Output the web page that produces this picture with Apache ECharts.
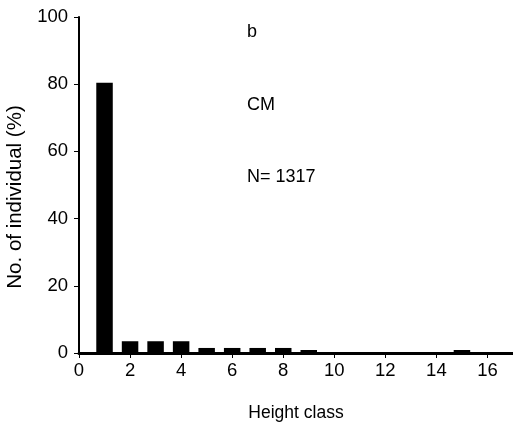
<!DOCTYPE html>
<html>
<head>
<meta charset="utf-8">
<script src="https://cdn.jsdelivr.net/npm/echarts@6/dist/echarts.min.js"></script>
<style>
  html, body { margin: 0; padding: 0; background: #fff; }
  #chart { width: 513px; height: 429px; }
</style>
</head>
<body>
<div id="chart"></div>
<script>
// Height-class distribution (% of individuals)
const heightClasses = [1, 2, 3, 4, 5, 6, 7, 8, 9, 10, 11, 12, 13, 14, 15, 16];
const percentIndividuals = [80.4, 3.5, 3.5, 3.5, 1.5, 1.5, 1.5, 1.5, 0.9, 0.2, 0.2, 0.2, 0.2, 0.2, 0.9, 0.2];
const xTickValues = [0, 2, 4, 6, 8, 10, 12, 14, 16];
const yTickValues = [0, 20, 40, 60, 80, 100];
const panelNotes = ['b', 'CM', 'N= 1317'];

const font = 'Liberation Sans, Arial, sans-serif';
const chart = echarts.init(document.getElementById('chart'));

chart.setOption({
  animation: false,
  backgroundColor: '#fff',
  grid: { left: 79, right: 0, top: 17, bottom: 76, containLabel: false, outerBoundsMode: 'none' },
  xAxis: {
    type: 'value',
    min: 0,
    max: 17,
    interval: 2,
    name: 'Height class',
    nameLocation: 'middle',
    nameGap: 51,
    nameTextStyle: { color: '#000', fontSize: 17.5, fontFamily: font },
    axisLine: { show: true, lineStyle: { color: '#000', width: 3 } },
    axisTick: { show: true, inside: false, length: 5, customValues: xTickValues, lineStyle: { color: '#000', width: 1 } },
    axisLabel: { customValues: xTickValues, color: '#000', fontSize: 18.5, fontFamily: font, margin: 8 },
    splitLine: { show: false }
  },
  yAxis: {
    type: 'value',
    min: 0,
    max: 100,
    interval: 20,
    name: 'No. of individual (%)',
    nameLocation: 'middle',
    nameGap: 46,
    nameTextStyle: { color: '#000', fontSize: 20.5, fontFamily: font, padding: [0, 24, 0, 0] },
    axisLine: { show: true, lineStyle: { color: '#000', width: 2 } },
    axisTick: { show: true, inside: false, length: 5, customValues: yTickValues, lineStyle: { color: '#000', width: 1 } },
    axisLabel: { customValues: yTickValues, color: '#000', fontSize: 18.5, fontFamily: font, margin: 11 },
    splitLine: { show: false }
  },
  series: [{
    type: 'bar',
    data: heightClasses.map((c, i) => [c, percentIndividuals[i]]),
    barWidth: 16.5,
    itemStyle: { color: '#000' },
    z: 1
  }],
  graphic: panelNotes.map((t, i) => ({
    type: 'text',
    x: 247,
    y: [32.5, 105.5, 177.5][i],
    style: { text: t, fill: '#000', font: '18px ' + font, textVerticalAlign: 'middle', textAlign: 'left' }
  }))
});
</script>
</body>
</html>
